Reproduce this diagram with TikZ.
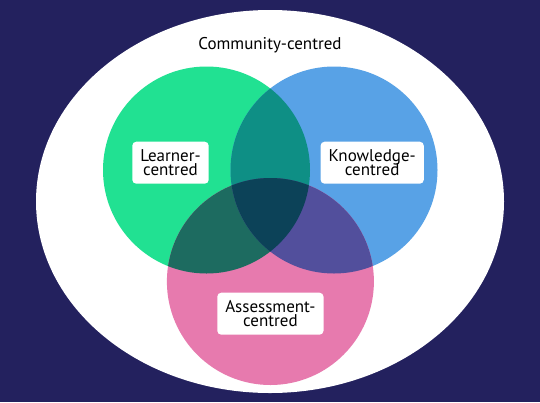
\documentclass[tikz,border=0pt]{standalone}
\usepackage{fontspec}
\setmainfont{PT Sans}
\definecolor{navy}{RGB}{35,33,94}
\definecolor{lgreen}{RGB}{33,225,146}
\definecolor{kblue}{RGB}{88,162,230}
\definecolor{apink}{RGB}{231,122,174}
\definecolor{lkteal}{RGB}{14,143,133}
\definecolor{lagreen}{RGB}{29,107,96}
\definecolor{kapurple}{RGB}{82,79,156}
\definecolor{allthree}{RGB}{12,66,88}
\newcommand{\tagfont}{\fontsize{17}{14}\selectfont\lineskiplimit=-50pt\relax}
\tikzset{
  set/.style={circle, minimum size=207pt, inner sep=0pt},
  tag/.style={fill=white, rounded corners=4pt, align=center, minimum height=42pt,
    inner xsep=8pt, font=\tagfont},
}
\begin{document}
\begin{tikzpicture}[x=1pt,y=-1pt]
% background and bounding box
\fill[navy] (0,0) rectangle (540,402);
\useasboundingbox (0,0) rectangle (540,402);
% the community
\fill[white] (270,201.5) ellipse [x radius=234pt, y radius=191.5pt];
\node[font=\fontsize{17}{20}\selectfont] (community) at (270,45) {Community-centred};
% the three circles
\node[set, fill=lgreen] (learner) at (206.5,170) {};
\node[set, fill=kblue] (knowledge) at (334,170) {};
\node[set, fill=apink] (assessment) at (270.4,281.5) {};
% the overlaps
\begin{scope}
  \clip (learner.center) circle (103.5pt);
  \fill[lkteal] (knowledge.center) circle (103.5pt);
  \fill[lagreen] (assessment.center) circle (103.5pt);
\end{scope}
\begin{scope}
  \clip (knowledge.center) circle (103.5pt);
  \fill[kapurple] (assessment.center) circle (103.5pt);
  \clip (learner.center) circle (103.5pt);
  \fill[allthree] (assessment.center) circle (103.5pt);
\end{scope}
% the labels
\node[tag] (learnerlbl) at (170.5,162.7) {Learner-\\centred};
\node[tag] (knowledgelbl) at (372.2,162.7) {Knowledge-\\centred};
\node[tag] (assessmentlbl) at (270.4,313.7) {Assessment-\\centred};
\end{tikzpicture}
\end{document}
